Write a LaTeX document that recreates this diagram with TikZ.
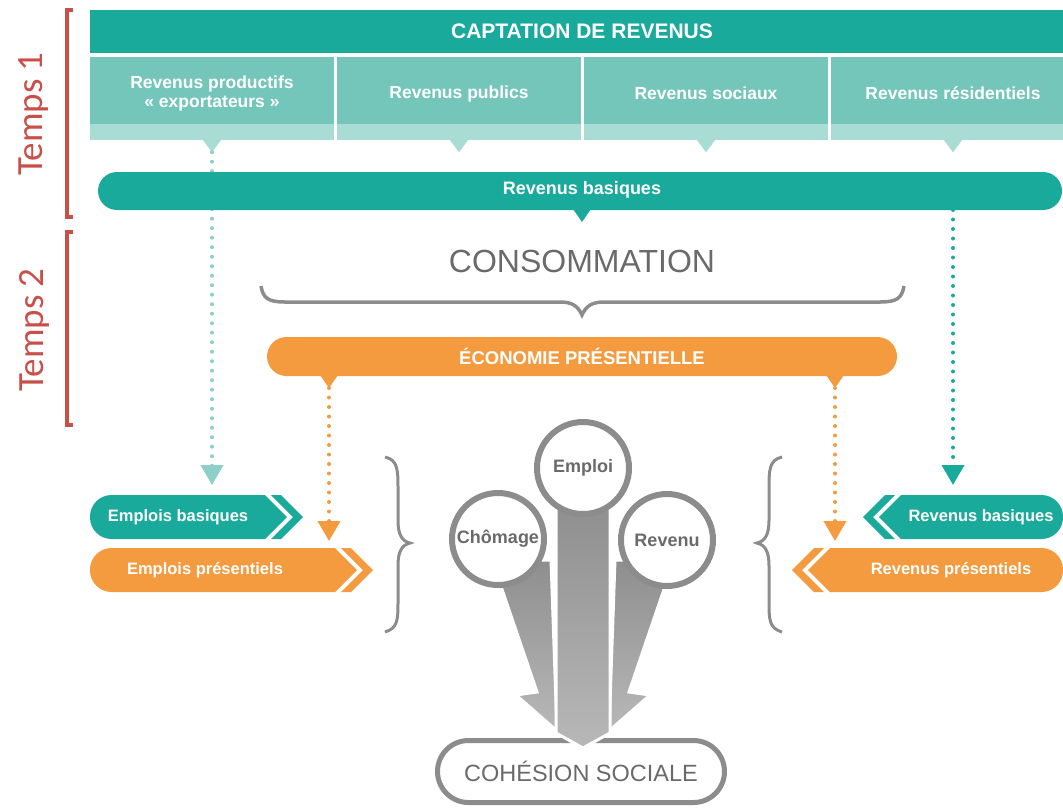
\documentclass[tikz,border=0pt]{standalone}
\usepackage{fontspec}
\setmainfont{Liberation Sans}
\newfontfamily\tempsfont{Carlito}
\usetikzlibrary{positioning}
\usetikzlibrary{shapes.misc}
\usetikzlibrary{arrows.meta}

\definecolor{tealdark}{HTML}{1AAA9B}
\definecolor{tealbox}{HTML}{74C6BB}
\definecolor{tealband}{HTML}{A8DCD4}
\definecolor{teallight}{HTML}{8ED0C7}
\definecolor{orangebar}{HTML}{F39B3E}
\definecolor{ringgray}{HTML}{8C8C8C}
\definecolor{textgray}{HTML}{6A6A6A}
\definecolor{redtemps}{HTML}{C9504A}
\definecolor{arrowtop}{HTML}{8E8E8E}
\definecolor{arrowbot}{HTML}{B8B8B8}

\tikzset{
  revbox/.style={fill=tealbox, minimum width=244pt, minimum height=83pt, inner sep=0pt},
  boxlabel/.style={text=white, font=\bfseries\fontsize{17.5}{19}\selectfont, align=center},
  barlabel/.style={text=white, font=\bfseries\fontsize{18}{20}\selectfont},
  arrlabel/.style={text=white, font=\bfseries\fontsize{16.5}{18}\selectfont},
  pilebar/.style={rounded rectangle, inner sep=0pt},
  dotline/.style={line width=4pt, line cap=round, dash pattern=on 0pt off 9.5pt,
    -{Triangle[width=22pt,length=20pt]}},
  bracket/.style={redtemps, line width=3.5pt},
  tempslabel/.style={rotate=90, text=redtemps, font=\tempsfont\fontsize{37}{40}\selectfont},
  curly/.style={ringgray, line width=3pt},
  ring/.style={circle, draw=ringgray, line width=6pt, fill=white, minimum size=92pt,
    inner sep=0pt, text=textgray, font=\bfseries\fontsize{18}{20}\selectfont},
  bigarrow/.style={top color=arrowtop, bottom color=arrowbot, draw=white, line width=3pt}
}

\begin{document}
\begin{tikzpicture}[x=1pt, y=-1pt]
\useasboundingbox (0,0) rectangle (1063,807);
\clip (0,0) rectangle (1063,807);

% Temps 1 / Temps 2
\draw[bracket] (73,10) -- (67,10) -- (67,217) -- (73,217);
\draw[bracket] (73,232) -- (67,232) -- (67,425) -- (73,425);
\node[tempslabel] (temps1) at (34,114) {Temps 1};
\node[tempslabel] (temps2) at (34,330) {Temps 2};

% captation
\node[fill=tealdark, minimum width=984pt, minimum height=43pt, inner sep=0pt,
  text=white, font=\bfseries\fontsize{21}{24}\selectfont] (captation) at (582,31.5) {CAPTATION DE REVENUS};

\foreach \i/\xc/\txt in {1/212/{Revenus productifs\\« exportateurs »},
                         2/459/{Revenus publics},
                         3/706/{Revenus sociaux},
                         4/953/{Revenus résidentiels}} {
  \node[revbox] (rev\i) at (\xc,98.5) {};
  \fill[tealband] (rev\i.south west) rectangle ([yshift=16pt]rev\i.south east);
  \fill[tealband] ([xshift=-9pt]rev\i.south) -- ([xshift=9pt]rev\i.south) -- ([yshift=-12pt]rev\i.south) -- cycle;
  \coordinate (tip\i) at ([yshift=-12pt]rev\i.south);
  \node[boxlabel] (lab\i) at ([yshift=5pt]rev\i.center) {\txt};
}

% dotted connectors (under the bars)
\coordinate (embasin) at (212,485);
\coordinate (revbasin) at (953,485);
\draw[dotline, teallight] (tip1) -- (embasin);

% revenus basiques
\node[pilebar, fill=tealdark, minimum width=964pt, minimum height=38pt] (basiques) at (580,191) {};
\node[barlabel] (basiqueslab) at (582,190) {Revenus basiques};
\fill[tealdark] (573,209) -- (591,209) -- (582,222) -- cycle;
\coordinate (basout) at (953,210);
\draw[dotline, tealdark] (basout) -- (revbasin);

% consommation
\node[text=textgray, font=\fontsize{32}{36}\selectfont] (conso) at (582,261) {CONSOMMATION};
\draw[curly, line width=3.5pt] (261,286) .. controls (263,298) and (268,302) .. (285,302) -- (560,302)
  .. controls (572,302) and (578,306) .. (582,315) .. controls (586,306) and (592,302) .. (604,302)
  -- (880,302) .. controls (897,302) and (902,298) .. (904,286);

% economie presentielle
\node[pilebar, fill=orangebar, minimum width=630pt, minimum height=39pt,
  text=white, font=\bfseries\fontsize{18.5}{20}\selectfont] (ecopres) at (582,356.5) {ÉCONOMIE PRÉSENTIELLE};
\fill[orangebar] (320,375) -- (338,375) -- (329,388) -- cycle;
\fill[orangebar] (826,375) -- (844,375) -- (835,388) -- cycle;
\coordinate (ecoleft) at (329,388);
\coordinate (ecoright) at (835,388);
\coordinate (empresin) at (329,541);
\coordinate (revpresin) at (835,541);
\draw[dotline, orangebar] (ecoleft) -- (empresin);
\draw[dotline, orangebar] (ecoright) -- (revpresin);

% emplois (left)
\fill[tealdark] {[rounded corners=21.5pt] (265,495) -- (90,495) -- (90,539)} -- (265,539) -- (287,517) -- cycle;
\fill[tealdark] (271,495) -- (281,495) -- (303,517) -- (281,539) -- (271,539) -- (293,517) -- cycle;
\node[arrlabel] (embas) at (178,517) {Emplois basiques};
\fill[orangebar] {[rounded corners=21.5pt] (335,548) -- (90,548) -- (90,592)} -- (335,592) -- (357,570) -- cycle;
\fill[orangebar] (341,548) -- (351,548) -- (373,570) -- (351,592) -- (341,592) -- (363,570) -- cycle;
\node[arrlabel] (empres) at (205,570) {Emplois présentiels};

% revenus (right)
\fill[tealdark] {[rounded corners=21.5pt] (901,495) -- (1063,495) -- (1063,539)} -- (901,539) -- (879,517) -- cycle;
\fill[tealdark] (895,495) -- (885,495) -- (863,517) -- (885,539) -- (895,539) -- (873,517) -- cycle;
\node[arrlabel] (revbas) at (981,517) {Revenus basiques};
\fill[orangebar] {[rounded corners=21.5pt] (830,548) -- (1063,548) -- (1063,592)} -- (830,592) -- (808,570) -- cycle;
\fill[orangebar] (824,548) -- (814,548) -- (792,570) -- (814,592) -- (824,592) -- (802,570) -- cycle;
\node[arrlabel] (revpres) at (951,570) {Revenus présentiels};

% accolades
\draw[curly] (385,457) .. controls (398,460) and (398,470) .. (398,490) -- (398,520)
  .. controls (398,535) and (402,541) .. (410,543) .. controls (402,545) and (398,551) .. (398,566)
  -- (398,600) .. controls (398,620) and (398,628) .. (385,632);
\draw[curly] (782,457) .. controls (769,460) and (769,470) .. (769,490) -- (769,520)
  .. controls (769,535) and (765,541) .. (757,543) .. controls (765,545) and (769,551) .. (769,566)
  -- (769,600) .. controls (769,620) and (769,628) .. (782,632);

% cohesion sociale
\node[pilebar, draw=ringgray, line width=5pt, fill=white, minimum width=287pt, minimum height=62pt,
  text=textgray, font=\fontsize{23.5}{26}\selectfont] (cohesion) at (581,771.5) {COHÉSION SOCIALE};

% fleches grises
\shade[bigarrow] (492,560) -- (537,692) -- (516,695) -- (557,731) -- (551,560) -- cycle;
\shade[bigarrow] (674,560) -- (629,692) -- (650,695) -- (609,731) -- (615,560) -- cycle;
\shade[bigarrow] (556,500) -- (556,733) -- (583,748) -- (610,733) -- (610,500) -- cycle;

\node[ring] (emploi) at (583,468) {Emploi};
\node[ring] (chomage) at (498,539) {Chômage};
\node[ring] (revenu) at (667,540) {Revenu};
\end{tikzpicture}
\end{document}
